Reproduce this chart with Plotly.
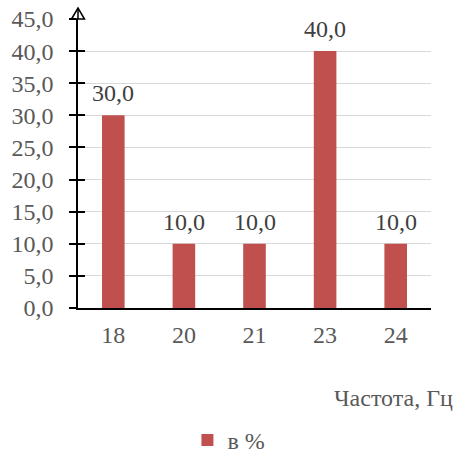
import plotly.graph_objects as go

# Frequency categories and share of measurements, %
categories = ["18", "20", "21", "23", "24"]
shares = [30.0, 10.0, 10.0, 40.0, 10.0]
y_ticks = [0, 5, 10, 15, 20, 25, 30, 35, 40, 45]

bar_color = "#c0504d"
text_color = "#595959"
label_color = "#404040"
font_family = "Liberation Serif, Times New Roman, serif"
font_size = 24

fig = go.Figure()
fig.add_trace(go.Bar(
    x=categories,
    y=shares,
    name="в %",
    marker=dict(color=bar_color, line=dict(width=0)),
    width=0.32,
))

# value labels above the bars (decimal comma); x given as category index
for idx, val in enumerate(shares):
    fig.add_annotation(
        x=idx, y=val,
        text=f"{val:.1f}".replace(".", ","),
        xref="x", yref="y",
        xanchor="center", yanchor="bottom",
        yshift=7,
        showarrow=False,
        font=dict(family=font_family, size=font_size, color=label_color),
    )

fig.update_layout(
    width=460,
    height=455,
    margin=dict(l=78, r=29, t=19, b=147, autoexpand=False),
    paper_bgcolor="white",
    plot_bgcolor="white",
    separators=", ",
    font=dict(family=font_family, size=font_size, color=text_color),
    bargap=0.68,
    showlegend=True,
    legend=dict(
        orientation="h",
        x=0.31, y=-0.458,
        xanchor="left", yanchor="middle",
        font=dict(family=font_family, size=font_size, color=text_color),
    ),
    xaxis=dict(
        type="category",
        categoryorder="array",
        categoryarray=categories,
        range=[-0.5, len(categories) - 0.5],
        tickmode="array",
        tickvals=categories,
        ticktext=categories,
        showgrid=False,
        showline=True,
        linecolor="black",
        linewidth=1.5,
        ticks="",
        ticklabelstandoff=4,
        tickfont=dict(family=font_family, size=font_size, color=text_color),
        zeroline=False,
    ),
    yaxis=dict(
        range=[0, 45],
        tickvals=y_ticks,
        tickformat=".1f",
        showgrid=True,
        gridcolor="#d9d9d9",
        gridwidth=1,
        showline=True,
        linecolor="black",
        linewidth=1.5,
        ticks="outside",
        ticklen=7,
        tickwidth=1.5,
        tickcolor="black",
        ticklabelstandoff=11,
        tickfont=dict(family=font_family, size=font_size, color=text_color),
        zeroline=False,
    ),
    yaxis2=dict(
        range=[0, 45],
        overlaying="y",
        tickvals=y_ticks,
        ticks="inside",
        ticklen=7,
        tickwidth=1.5,
        tickcolor="black",
        showticklabels=False,
        showgrid=False,
        showline=False,
        zeroline=False,
    ),
)

# invisible trace to activate the secondary axis that carries the inner tick halves
fig.add_trace(go.Scatter(x=categories, y=shares, yaxis="y2", mode="none",
                         showlegend=False, hoverinfo="skip"))

# value axis extension and open arrow head above the top gridline
fig.add_shape(
    type="line",
    xref="paper", yref="paper",
    xsizemode="pixel", ysizemode="pixel",
    xanchor=0, yanchor=1,
    x0=0, x1=0, y0=0, y1=11,
    line=dict(color="black", width=1.5),
    layer="above",
)
fig.add_shape(
    type="path",
    xref="paper", yref="paper",
    xsizemode="pixel", ysizemode="pixel",
    xanchor=0, yanchor=1,
    path="M -6.5,0 L 0,11 L 6.5,0 Z",
    line=dict(color="black", width=1.5),
    fillcolor="rgba(0,0,0,0)",
    layer="above",
)

# x axis title in the lower right corner
fig.add_annotation(
    text="Частота, Гц",
    xref="paper", yref="paper",
    x=1.068, y=-0.313,
    xanchor="right", yanchor="middle",
    showarrow=False,
    font=dict(family=font_family, size=font_size, color=text_color),
)

fig.write_html("out.html")
